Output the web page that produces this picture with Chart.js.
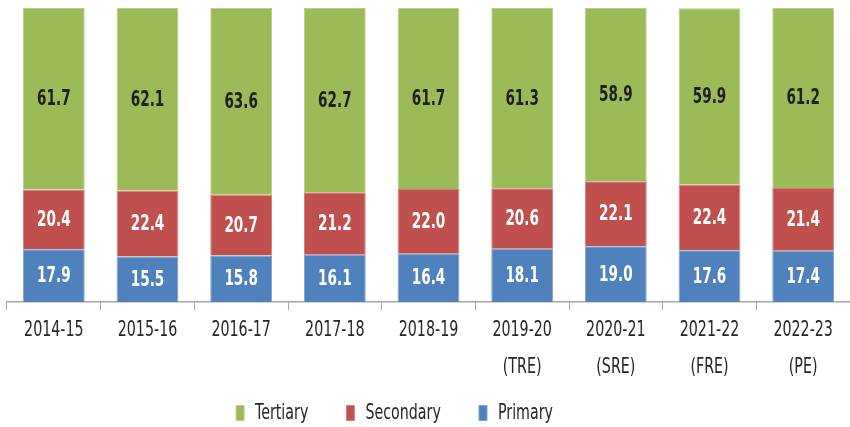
<!DOCTYPE html>
<html>
<head>
<meta charset="utf-8">
<script src="https://cdn.jsdelivr.net/npm/chart.js@4"></script>
<style>
  html, body { margin: 0; padding: 0; background: #fff; }
  #wrap { width: 850px; height: 427px; }
</style>
</head>
<body>
<div id="wrap"><canvas id="gdpChart"></canvas></div>
<script>
const years = [
    '2014-15', '2015-16', '2016-17', '2017-18', '2018-19',
    ['2019-20', '(TRE)'], ['2020-21', '(SRE)'], ['2021-22', '(FRE)'], ['2022-23', '(PE)']
];
const primary   = [17.9, 15.5, 15.8, 16.1, 16.4, 18.1, 19.0, 17.6, 17.4];
const secondary = [20.4, 22.4, 20.7, 21.2, 22.0, 20.6, 22.1, 22.4, 21.4];
const tertiary  = [61.7, 62.1, 63.6, 62.7, 61.7, 61.3, 58.9, 59.9, 61.2];

const FONT = "'DejaVu Sans Condensed', 'DejaVu Sans', sans-serif";
const SQUEEZE = 0.72;   // the original uses a tall, narrow face

// draw the value in the middle of every bar segment
const barLabels = {
    id: 'barLabels',
    afterDatasetsDraw(chart) {
        const ctx = chart.ctx;
        ctx.save();
        ctx.font = 'bold 21px ' + FONT;
        ctx.textAlign = 'center';
        ctx.textBaseline = 'middle';
        chart.data.datasets.forEach((ds, i) => {
            const meta = chart.getDatasetMeta(i);
            ctx.fillStyle = ds.labelColor;
            meta.data.forEach((bar, j) => {
                ctx.fillText(ds.data[j].toFixed(1), bar.x, (bar.y + bar.base) / 2 + 1);
            });
        });
        ctx.restore();
    }
};

const canvas = document.getElementById('gdpChart');
const ctx = canvas.getContext('2d');

// narrow every piece of text drawn on this canvas (and measure it the same way)
const plainFillText = ctx.fillText.bind(ctx);
const plainMeasure = ctx.measureText.bind(ctx);
ctx.fillText = function (text, x, y, maxWidth) {
    this.save();
    this.translate(x, y);
    this.scale(SQUEEZE, 1);
    if (maxWidth === undefined) plainFillText(text, 0, 0);
    else plainFillText(text, 0, 0, maxWidth / SQUEEZE);
    this.restore();
};
ctx.measureText = function (text) {
    const m = plainMeasure(text);
    return {
        width: m.width * SQUEEZE,
        actualBoundingBoxAscent: m.actualBoundingBoxAscent,
        actualBoundingBoxDescent: m.actualBoundingBoxDescent,
        actualBoundingBoxLeft: m.actualBoundingBoxLeft * SQUEEZE,
        actualBoundingBoxRight: m.actualBoundingBoxRight * SQUEEZE
    };
};

new Chart(ctx, {
    type: 'bar',
    data: {
        labels: years,
        datasets: [{
            label: 'Primary',
            data: primary,
            backgroundColor: '#4f81bd',
            borderColor: '#7fa2d0',
            borderWidth: 1,
            labelColor: '#ffffff'
        }, {
            label: 'Secondary',
            data: secondary,
            backgroundColor: '#c0504d',
            borderColor: '#d2807e',
            borderWidth: 1,
            labelColor: '#ffffff'
        }, {
            label: 'Tertiary',
            data: tertiary,
            backgroundColor: '#9bbb59',
            borderColor: '#b8d088',
            borderWidth: 1,
            labelColor: '#1f1f1f'
        }]
    },
    options: {
        responsive: true,
        maintainAspectRatio: false,
        animation: false,
        datasets: {
            bar: { categoryPercentage: 0.66, barPercentage: 1 }
        },
        layout: { padding: { left: 7, right: 0, top: 8, bottom: -7 } },
        plugins: {
            legend: {
                position: 'bottom',
                reverse: true,
                labels: {
                    font: { family: FONT, size: 22 },
                    color: '#262626',
                    boxWidth: 8,
                    boxHeight: 15,
                    padding: 20,
                    // trailing space spreads the items like the original and
                    // pulls the whole legend a bit left of centre
                    generateLabels(chart) {
                        return Chart.defaults.plugins.legend.labels.generateLabels(chart)
                            .map(item => ({
                                ...item,
                                text: item.text + '\u00a0'.repeat(item.datasetIndex === 0 ? 15 : 4)
                            }));
                    }
                }
            },
            tooltip: { enabled: false }
        },
        scales: {
            x: {
                stacked: true,
                border: { display: true, color: '#a6a6a6', width: 1.5 },
                grid: {
                    offset: true,
                    drawOnChartArea: false,
                    drawTicks: true,
                    tickLength: 8,
                    color: '#a6a6a6'
                },
                ticks: {
                    font: { family: FONT, size: 22, lineHeight: 37 / 22 },
                    color: '#262626',
                    maxRotation: 0,
                    autoSkip: false,
                    padding: 2
                },
                afterFit(scale) {
                    scale.height = 80;
                }
            },
            y: {
                stacked: true,
                display: false,
                min: 0,
                max: 100
            }
        }
    },
    plugins: [barLabels]
});
</script>
</body>
</html>
